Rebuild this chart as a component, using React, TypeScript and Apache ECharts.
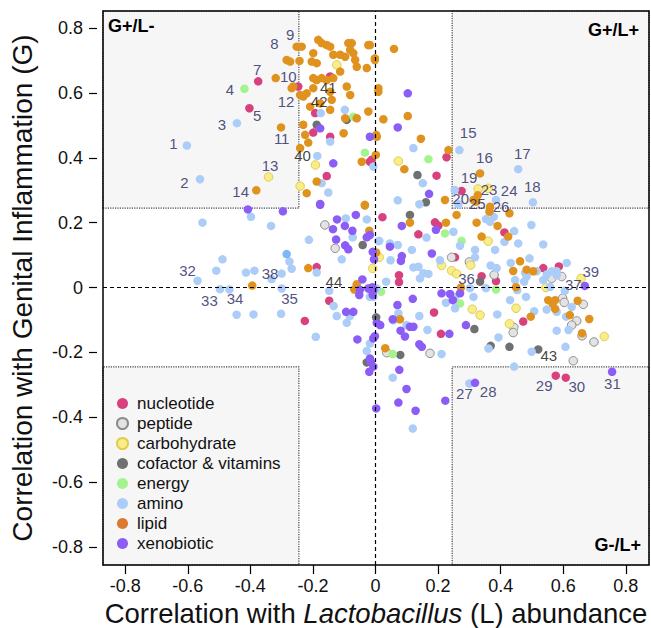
import React, { useEffect, useRef } from "react";
import * as echarts from "echarts";

// ---------- data (x = correlation with Lactobacillus, y = correlation with genital inflammation) ----------
const categories = ["nucleotide", "peptide", "carbohydrate", "cofactor & vitamins", "energy", "amino", "lipid", "xenobiotic"];

const nucleotide = [
  [-0.375, 0.636], [-0.403, 0.553], [-0.247, 0.62], [-0.193, 0.538], [-0.199, 0.478], [-0.145, 0.465], [-0.145, 0.651],
  [-0.018, 0.388], [-0.156, 0.344], [-0.012, 0.394], [0.227, 0.402], [0.195, 0.345], [0.275, 0.298], [0.022, 0.217],
  [0.137, 0.164], [0.19, 0.201], [0.201, 0.191], [0.412, 0.17], [0.254, 0.093], [0.075, 0.038], [0.075, 0.017],
  [0.339, 0.035], [0.385, 0.02], [0.536, 0.06], [0.586, 0.065], [0.472, -0.105], [0.187, -0.077], [0.209, -0.143],
  [0.576, -0.272], [0.608, -0.278], [-0.188, 0.063], [-0.148, -0.041], [-0.226, -0.103],
];

const peptide = [
  [-0.162, 0.193], [-0.129, 0.121], [0.243, 0.093], [0.3, 0.079], [0.379, 0.039], [0.563, 0.028], [0.595, 0.034],
  [0.598, -0.033], [0.603, -0.046], [0.664, -0.052], [0.643, -0.103], [0.627, -0.116], [0.66, -0.149], [0.698, -0.168],
  [0.442, -0.123], [0.44, -0.139], [0.174, -0.203], [0.036, -0.201], [0.632, -0.226],
];

const carbohydrate = [
  [-0.342, 0.341], [-0.192, 0.378], [-0.241, 0.313], [-0.124, 0.687], [0.073, 0.39], [0.328, 0.304], [0.36, 0.306],
  [0.36, 0.143], [0.012, 0.093], [-0.009, 0.059], [0.211, 0.068], [0.243, 0.052], [0.259, 0.042], [0.304, 0.069],
  [0.657, 0.028], [0.545, 0.0], [0.309, -0.067], [0.334, -0.085], [0.449, -0.064], [0.428, -0.112], [0.731, -0.151],
];

const cofactor = [
  [-0.188, 0.502], [-0.092, 0.517], [0.134, 0.347], [0.161, 0.263], [0.11, 0.224], [-0.041, 0.131], [0.002, -0.092],
  [-0.028, -0.231], [0.334, 0.018], [0.316, -0.128], [0.368, -0.18], [0.428, -0.183], [0.52, -0.191], [0.079, -0.208],
];

const energy = [
  [-0.419, 0.613], [-0.071, 0.527], [-0.034, 0.416], [0.169, 0.396], [0.222, 0.167], [0.275, 0.144], [0.385, -0.006],
  [0.27, -0.049], [0.018, -0.013], [0.055, -0.205],
];

const amino = [
  [-0.603, 0.438], [-0.561, 0.334], [-0.443, 0.507], [-0.175, 0.538], [-0.098, 0.548], [-0.145, 0.45], [-0.186, 0.406],
  [-0.172, 0.322], [-0.151, 0.293], [-0.007, 0.373], [0.121, 0.43], [0.268, 0.424], [0.151, 0.322], [0.14, 0.257],
  [0.071, 0.269], [0.456, 0.365], [0.503, 0.263], [0.253, 0.301], [0.385, 0.27], [0.378, 0.218], [0.353, 0.211],
  [0.265, 0.257], [0.366, 0.203], [0.498, 0.193], [0.443, 0.174], [0.249, 0.172], [0.27, 0.129], [0.412, 0.141],
  [0.456, 0.136], [0.536, 0.133], [0.382, 0.116], [0.318, 0.116], [0.012, 0.144], [0.046, 0.136], [0.071, 0.131],
  [0.163, 0.154], [0.116, 0.116], [0.206, 0.084], [0.048, 0.084], [0.121, 0.062], [0.137, 0.064], [0.153, 0.044],
  [0.142, 0.028], [0.169, 0.042], [0.034, 0.018], [0.318, 0.093], [0.368, 0.068], [0.387, 0.06], [0.432, 0.076],
  [0.492, 0.09], [0.478, 0.045], [0.483, 0.034], [0.515, 0.05], [0.547, 0.04], [0.563, 0.05], [0.579, 0.05],
  [0.611, 0.076], [0.536, 0.023], [0.558, 0.002], [0.579, 0.038], [0.605, -0.01], [0.302, -0.002], [0.353, -0.002],
  [0.446, 0.023], [0.475, 0.018], [0.453, -0.008], [0.481, -0.029], [0.313, -0.029], [0.254, -0.029], [0.225, -0.047],
  [0.254, -0.064], [0.389, -0.083], [0.43, -0.039], [0.507, -0.073], [0.547, -0.068], [0.579, -0.075], [0.627, -0.06],
  [0.609, -0.09], [0.579, -0.133], [0.617, -0.131], [0.393, -0.154], [0.361, -0.188], [0.166, -0.131], [0.14, -0.088],
  [0.073, -0.08], [0.057, -0.101], [0.099, -0.116], [0.211, -0.205], [0.499, -0.198], [0.607, -0.183], [0.443, -0.244],
  [0.3, -0.296], [0.055, -0.278], [-0.007, -0.029], [0.119, -0.435],
  [-0.398, 0.218], [-0.553, 0.2], [-0.334, 0.19], [-0.213, 0.147], [-0.095, 0.213], [-0.028, 0.21], [-0.073, 0.155],
  [-0.108, 0.087], [0.009, 0.143], [-0.489, 0.087], [-0.509, 0.052], [-0.569, 0.021], [-0.497, -0.005], [-0.467, -0.006],
  [-0.414, 0.046], [-0.387, 0.052], [-0.332, 0.026], [-0.3, 0.043], [-0.268, 0.058], [-0.275, 0.08], [-0.3, -0.003],
  [-0.188, 0.046], [-0.148, -0.01], [-0.134, -0.057], [-0.124, -0.088], [-0.092, -0.109], [-0.082, -0.088],
  [-0.191, -0.152], [-0.444, -0.084], [-0.39, -0.083], [-0.302, -0.081], [-0.018, -0.173], [-0.028, -0.196],
  [-0.018, -0.029], [0.004, -0.003],
];

const aminoHighlight = [[-0.284, 0.103]];

const lipid = [
  [-0.319, 0.646], [-0.302, 0.494], [-0.268, 0.615], [-0.381, 0.3], [-0.252, 0.743], [-0.236, 0.743], [-0.183, 0.764],
  [-0.172, 0.754], [-0.156, 0.748], [-0.145, 0.743], [-0.199, 0.723], [-0.204, 0.697], [-0.188, 0.692], [-0.243, 0.699],
  [-0.284, 0.702], [-0.273, 0.697], [-0.135, 0.718], [-0.113, 0.718], [-0.097, 0.712], [-0.087, 0.754], [-0.076, 0.754],
  [-0.081, 0.733], [-0.071, 0.723], [-0.065, 0.702], [-0.06, 0.681], [-0.028, 0.677], [-0.023, 0.748], [-0.002, 0.707],
  [-0.113, 0.666], [-0.135, 0.646], [-0.199, 0.646], [-0.188, 0.64], [-0.172, 0.646], [-0.156, 0.64], [-0.145, 0.604],
  [-0.199, 0.615], [-0.22, 0.599], [-0.231, 0.589], [-0.241, 0.594], [-0.263, 0.62], [-0.209, 0.558], [-0.177, 0.568],
  [-0.145, 0.548], [-0.14, 0.579], [-0.092, 0.62], [-0.081, 0.594], [-0.097, 0.522], [-0.06, 0.522], [-0.023, 0.543],
  [-0.231, 0.502], [-0.225, 0.471], [-0.215, 0.447], [-0.241, 0.43], [-0.102, 0.476], [-0.044, 0.388], [0.009, 0.615],
  [0.004, 0.465], [-0.22, 0.291], [-0.188, 0.327], [-0.034, 0.255],
  [-0.018, 0.748], [0.059, 0.736], [-0.002, 0.702], [0.009, 0.604], [0.025, 0.519], [0.103, 0.529], [0.002, 0.471],
  [0.145, 0.459], [0.233, 0.424], [0.001, 0.409], [0.092, 0.365], [0.222, 0.27], [0.259, 0.224], [0.334, 0.352],
  [0.327, 0.285], [0.313, 0.27], [0.322, 0.265], [0.366, 0.249], [0.364, 0.234], [0.428, 0.229],
  [0.11, 0.2], [0.225, 0.2], [0.323, 0.2], [0.39, 0.19], [0.424, 0.157], [0.339, 0.157], [0.44, 0.051], [0.462, 0.081],
  [0.483, 0.055], [0.504, 0.05], [0.449, 0.001], [0.273, 0.0], [0.552, -0.039], [0.566, -0.05], [0.574, -0.039],
  [0.574, -0.066], [0.646, -0.041], [0.621, -0.085], [0.683, -0.097], [0.66, -0.141], [0.496, -0.09], [0.078, -0.098],
  [0.031, -0.187], [-0.394, 0.006], [-0.215, 0.06], [-0.034, 0.253], [-0.02, 0.175], [0.002, 0.108], [-0.06, 0.01],
  [-0.068, -0.006], [-0.056, -0.008],
];

const xenobiotic = [
  [-0.177, 0.491], [-0.135, 0.383], [-0.018, 0.465], [-0.177, 0.258], [-0.296, 0.235], [-0.408, 0.241],
  [0.103, 0.599], [0.071, 0.494], [0.171, 0.289], [0.084, 0.19], [0.193, 0.178], [0.046, 0.126], [-0.009, 0.11],
  [0.18, 0.105], [0.084, 0.097], [0.081, 0.082], [0.669, 0.005], [0.211, -0.018], [0.238, -0.02], [0.27, -0.018],
  [0.247, -0.039], [0.119, -0.035], [0.289, -0.116], [0.236, -0.143], [0.11, -0.121], [0.121, -0.121], [0.094, -0.151],
  [0.08, -0.133], [0.07, -0.054], [0.055, -0.098], [0.14, -0.175], [0.148, -0.183], [0.015, -0.116], [-0.007, -0.157],
  [-0.018, -0.219], [0.076, -0.254], [0.099, -0.313], [0.756, -0.26], [0.318, -0.294], [-0.018, -0.003], [-0.007, -0.008],
  [-0.009, -0.023], [0.002, -0.373], [0.073, -0.355], [0.128, -0.38], [0.223, -0.349],
  [-0.177, 0.255], [-0.123, 0.21], [-0.098, 0.19], [-0.136, 0.18], [-0.074, 0.175], [-0.063, 0.224], [-0.126, 0.148],
  [-0.097, 0.13], [-0.087, 0.118], [-0.028, 0.155], [-0.018, 0.162], [-0.005, 0.087], [-0.042, 0.025], [-0.05, -0.007],
  [-0.052, -0.023], [-0.023, -0.003], [-0.094, -0.075], [-0.071, -0.075], [-0.058, -0.16], [-0.015, -0.229],
  [-0.02, -0.26], [-0.007, -0.244], [0.004, -0.109], [-0.002, -0.15], [-0.01, 0.001],
];

// numbered annotations: [x, y, label]
const navyLabels: [number, number, string][] = [
  [-0.646, 0.445, "1"], [-0.611, 0.323, "2"], [-0.491, 0.502, "3"], [-0.465, 0.612, "4"], [-0.378, 0.532, "5"],
  [-0.378, 0.673, "7"], [-0.323, 0.752, "8"], [-0.273, 0.781, "9"], [-0.279, 0.651, "10"], [-0.3, 0.46, "11"],
  [-0.286, 0.573, "12"], [-0.337, 0.376, "13"], [-0.431, 0.295, "14"], [0.296, 0.478, "15"], [0.348, 0.401, "16"],
  [0.469, 0.412, "17"], [0.501, 0.311, "18"], [0.299, 0.339, "19"], [0.272, 0.275, "20"], [0.363, 0.301, "23"],
  [0.427, 0.299, "24"], [0.325, 0.258, "25"], [0.401, 0.25, "26"], [0.284, -0.327, "27"], [0.36, -0.322, "28"],
  [0.539, -0.301, "29"], [0.643, -0.306, "30"], [0.757, -0.296, "31"], [-0.601, 0.054, "32"], [-0.531, -0.041, "33"],
  [-0.449, -0.033, "34"], [-0.275, -0.035, "35"], [0.291, 0.028, "36"], [0.632, 0.008, "37"], [-0.337, 0.042, "38"],
  [0.688, 0.049, "39"],
];
const blackLabels: [number, number, string][] = [
  [-0.233, 0.406, "40"], [-0.151, 0.618, "41"], [-0.18, 0.573, "42"], [0.554, -0.211, "43"], [-0.133, 0.018, "44"],
];

const xTicks = [-0.8, -0.6, -0.4, -0.2, 0, 0.2, 0.4, 0.6, 0.8];
const yTicks = [-0.8, -0.6, -0.4, -0.2, 0, 0.2, 0.4, 0.6, 0.8];
const xRange = [-0.871, 0.874];
const yRange = [-0.856, 0.853];
const cut = 0.245;
const quadrantTags = ["G+/L-", "G+/L+", "G-/L+"];

const FONT = "'Liberation Sans', Arial, Helvetica, sans-serif";

export default function App() {
  const ref = useRef<HTMLDivElement>(null);
  useEffect(() => {
    if (!ref.current) return;
    const chart = echarts.init(ref.current, undefined, { renderer: "svg" });
    const G = { left: 103, top: 11, width: 546, height: 554 };

    const styles: Record<string, any> = {
      nucleotide: { color: "#d8407e" },
      peptide: { color: "#e3e3e3", borderColor: "#8c8c8c", borderWidth: 1 },
      carbohydrate: { color: "#f7ed8c", borderColor: "#e3cc48", borderWidth: 1 },
      "cofactor & vitamins": { color: "#6f7171" },
      energy: { color: "#a4f38e" },
      amino: { color: "#abcdf8" },
      lipid: { color: "#e0921f" },
      xenobiotic: { color: "#8b5cf6" },
    };
    const dataMap: Record<string, number[][]> = {
      nucleotide, peptide, carbohydrate, "cofactor & vitamins": cofactor, energy, amino, lipid, xenobiotic,
    };

    const boxStyle = { color: "#f6f6f6", borderColor: "#444", borderType: "dotted", borderWidth: 1.2 };
    const [x0, x1] = xRange;
    const [y0, y1] = yRange;

    const series: any[] = [
      {
        name: "_frame",
        type: "scatter",
        data: [],
        z: 1,
        silent: true,
        markArea: {
          silent: true,
          itemStyle: boxStyle,
          data: [
            [{ coord: [x0, cut] }, { coord: [-cut, y1] }],
            [{ coord: [cut, cut] }, { coord: [x1, y1] }],
            [{ coord: [x0, y0] }, { coord: [-cut, -cut] }],
            [{ coord: [cut, y0] }, { coord: [x1, -cut] }],
          ],
        },
        markLine: {
          silent: true,
          symbol: "none",
          label: { show: false },
          lineStyle: { color: "#000", type: [4, 3], width: 1.2 },
          data: [{ xAxis: 0 }, { yAxis: 0 }],
        },
      },
    ];

    categories.forEach((c) => {
      series.push({
        name: c,
        type: "scatter",
        data: dataMap[c],
        symbolSize: 8.5,
        itemStyle: { ...styles[c], opacity: 1 },
        z: 3,
        silent: true,
      });
    });
    series.push({
      name: "_aminoHi",
      type: "scatter",
      data: aminoHighlight,
      symbolSize: 8.5,
      itemStyle: { color: "#5aa6f2" },
      z: 3,
    });

    const labelSeries = (arr: [number, number, string][], color: string) => ({
      name: "_labels" + color,
      type: "scatter",
      data: arr.map((d) => ({ value: [d[0], d[1]], name: d[2] })),
      symbolSize: 1,
      itemStyle: { color: "rgba(0,0,0,0)" },
      z: 5,
      silent: true,
      label: {
        show: true,
        position: "inside",
        formatter: (p: any) => p.name,
        color,
        fontSize: 15,
        lineHeight: 13,
        fontFamily: FONT,
      },
    });
    series.push(labelSeries(navyLabels, "#24245c"));
    series.push(labelSeries(blackLabels, "#111111"));

    chart.setOption({
      animation: false,
      backgroundColor: "#fff",
      grid: { ...G, show: false, containLabel: false, outerBoundsMode: "none" },
      xAxis: {
        type: "value",
        min: x0,
        max: x1,
        axisLine: { show: false, onZero: false },
        splitLine: { show: false },
        axisTick: { show: true, length: 9, customValues: xTicks, lineStyle: { color: "#000", width: 1.2 } },
        axisLabel: {
          customValues: xTicks,
          margin: 13,
          fontSize: 18,
          lineHeight: 16,
          color: "#111",
          fontFamily: FONT,
          formatter: (v: number) => String(Math.round(v * 10) / 10),
        },
        name: "Correlation with {i|Lactobacillus} (L) abundance",
        nameLocation: "middle",
        nameGap: 35,
        nameMoveOverlap: false,
        nameTextStyle: {
          fontSize: 27.5,
          lineHeight: 26,
          color: "#111",
          fontFamily: FONT,
          rich: { i: { fontSize: 27.5, lineHeight: 26, fontStyle: "italic", color: "#111", fontFamily: FONT } },
        },
      },
      yAxis: {
        type: "value",
        min: y0,
        max: y1,
        offset: 6,
        axisLine: { show: false, onZero: false },
        splitLine: { show: false },
        axisTick: { show: true, length: 8, customValues: yTicks, lineStyle: { color: "#000", width: 1.2 } },
        axisLabel: {
          customValues: yTicks,
          margin: 14,
          fontSize: 18,
          color: "#111",
          fontFamily: FONT,
          formatter: (v: number) => String(Math.round(v * 10) / 10),
        },
        name: "Correlation with Genital Inflammation (G)",
        nameLocation: "middle",
        nameGap: 61,
        nameMoveOverlap: false,
        nameTextStyle: { fontSize: 28, color: "#111", fontFamily: FONT },
      },
      legend: {
        orient: "vertical",
        left: 111,
        top: 390,
        itemWidth: 21,
        itemHeight: 11,
        itemGap: 3,
        icon: "circle",
        selectedMode: false,
        textStyle: { fontSize: 17, color: "#111", fontFamily: FONT, lineHeight: 17, padding: [0, 0, 0, -1] },
        data: categories.map((c) =>
          c === "lipid" ? { name: c, itemStyle: { color: "#d97a30" } } : { name: c }
        ),
      },
      graphic: [
        {
          type: "rect",
          z: 100,
          silent: true,
          shape: { x: G.left, y: G.top, width: G.width, height: G.height },
          style: { fill: "none", stroke: "#000", lineWidth: 1.5 },
        },
        {
          type: "text",
          z: 100,
          left: 108,
          top: 17,
          style: { text: quadrantTags[0], font: `bold 18px ${FONT}`, fill: "#000" },
        },
        {
          type: "text",
          z: 100,
          right: 12,
          top: 21,
          style: { text: quadrantTags[1], font: `bold 18px ${FONT}`, fill: "#000" },
        },
        {
          type: "text",
          z: 100,
          right: 10,
          top: 536,
          style: { text: quadrantTags[2], font: `bold 18px ${FONT}`, fill: "#000" },
        },
      ],
      series,
    });
    return () => chart.dispose();
  }, []);

  return (
    <div
      ref={ref}
      style={{ position: "fixed", left: 0, top: 0, width: 651, height: 628, background: "#fff" }}
    />
  );
}
